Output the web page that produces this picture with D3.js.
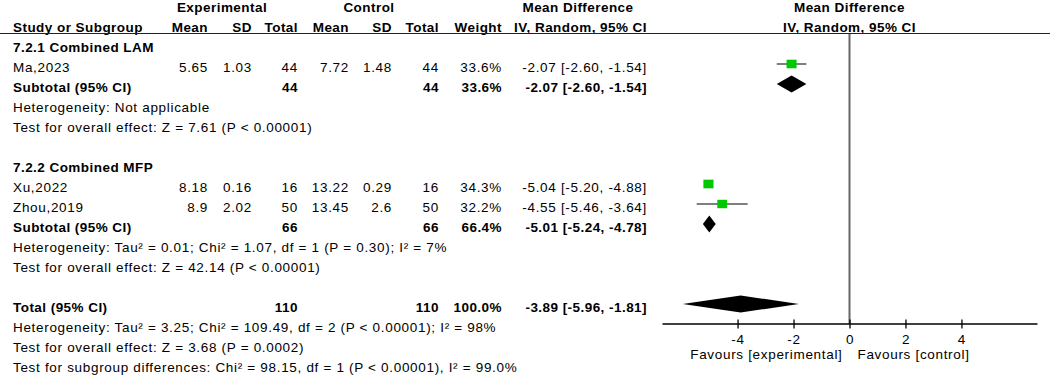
<!DOCTYPE html>
<html><head><meta charset="utf-8">
<script src="https://cdn.jsdelivr.net/npm/d3@7"></script>
<style>
body{margin:0;background:#fff;}
svg text{font-family:"Liberation Sans",Arial,sans-serif;font-size:13.5px;fill:#000;letter-spacing:0.68px;}
svg text.b{font-weight:bold;letter-spacing:0.45px;}
</style></head><body>
<svg id="chart"></svg>
<script>
// studies
var studyNames=['Ma,2023','Xu,2022','Zhou,2019'],
    studyGroup=[0,1,1],
    expMean=[5.65,8.18,8.9], expSD=[1.03,0.16,2.02], expTotal=[44,16,50],
    ctrlMean=[7.72,13.22,13.45], ctrlSD=[1.48,0.29,2.6], ctrlTotal=[44,16,50],
    weights=[33.6,34.3,32.2],
    mdEst=[-2.07,-5.04,-4.55], mdLow=[-2.60,-5.20,-5.46], mdHigh=[-1.54,-4.88,-3.64];
// subgroups
var groupNames=['7.2.1 Combined LAM','7.2.2 Combined MFP'],
    groupExp=[44,66], groupCtrl=[44,66], groupWeight=[33.6,66.4],
    groupMd=[-2.07,-5.01], groupLo=[-2.60,-5.24], groupHi=[-1.54,-4.78],
    groupHet=['Heterogeneity: Not applicable',
              'Heterogeneity: Tau\u00b2 = 0.01; Chi\u00b2 = 1.07, df = 1 (P = 0.30); I\u00b2 = 7%'],
    groupTest=['Test for overall effect: Z = 7.61 (P < 0.00001)',
               'Test for overall effect: Z = 42.14 (P < 0.00001)'];
// overall
var totalExp=110, totalCtrl=110, totalWeight=100.0,
    totalMd=-3.89, totalLo=-5.96, totalHi=-1.81,
    totalNotes=['Heterogeneity: Tau\u00b2 = 3.25; Chi\u00b2 = 109.49, df = 2 (P < 0.00001); I\u00b2 = 98%',
                'Test for overall effect: Z = 3.68 (P = 0.0002)',
                'Test for subgroup differences: Chi\u00b2 = 98.15, df = 1 (P < 0.00001), I\u00b2 = 99.0%'];
// axis
var xDomain=[-6.7,6.7], xTicks=[-4,-2,0,2,4],
    favours=['Favours [experimental]','Favours [control]'];

var W=1052,H=375;
var svg=d3.select('#chart').attr('width',W).attr('height',H);
var col={expMean:208,expSD:252,expTotal:298,ctrlMean:349,ctrlSD:392,ctrlTotal:439,weight:502,ci:647};
function rowY(i){return 12+20*i;}
var x=d3.scaleLinear().domain(xDomain).range([662,1037]);
var sq=d3.scaleSqrt().domain([0,33.6]).range([0,10]);
function ciText(m,l,h){return m.toFixed(2)+' ['+l.toFixed(2)+', '+h.toFixed(2)+']';}
function txt(s,xx,i,anchor,bold){
  svg.append('text').attr('x',xx).attr('y',rowY(i)).attr('text-anchor',anchor||'start')
     .attr('class',bold?'b':null).text(s);}

// headers
txt('Experimental',222,0,'middle',1);
txt('Control',369,0,'middle',1);
txt('Mean Difference',578,0,'middle',1);
txt('Mean Difference',x(0),0,'middle',1);
txt('Study or Subgroup',13,1,'start',1);
[['Mean','expMean'],['SD','expSD'],['Total','expTotal'],['Mean','ctrlMean'],
 ['SD','ctrlSD'],['Total','ctrlTotal'],['Weight','weight'],['IV, Random, 95% CI','ci']]
 .forEach(function(h){txt(h[0],col[h[1]],1,'end',1);});
txt('IV, Random, 95% CI',x(0),1,'middle',1);
svg.append('line').attr('x1',0).attr('x2',1050).attr('y1',33.5).attr('y2',33.5)
   .attr('stroke','#222').attr('stroke-width',1.2);

var plot=svg.append('g');
function diamond(m,l,h,i){
  var cy=rowY(i)-8;
  plot.append('path').attr('fill','#000')
      .attr('d','M'+x(l)+','+cy+'L'+x(m)+','+(cy-8.5)+'L'+x(h)+','+cy+'L'+x(m)+','+(cy+8.5)+'Z');}

var r=2;
groupNames.forEach(function(g,gi){
  txt(g,13,r,'start',1); r++;
  studyNames.forEach(function(n,k){
    if(studyGroup[k]!==gi) return;
    txt(n,13,r);
    txt(String(expMean[k]),col.expMean,r,'end');
    txt(String(expSD[k]),col.expSD,r,'end');
    txt(String(expTotal[k]),col.expTotal,r,'end');
    txt(String(ctrlMean[k]),col.ctrlMean,r,'end');
    txt(String(ctrlSD[k]),col.ctrlSD,r,'end');
    txt(String(ctrlTotal[k]),col.ctrlTotal,r,'end');
    txt(weights[k].toFixed(1)+'%',col.weight,r,'end');
    txt(ciText(mdEst[k],mdLow[k],mdHigh[k]),col.ci,r,'end');
    var cy=rowY(r)-8, s=sq(weights[k]);
    plot.append('line').attr('x1',x(mdLow[k])).attr('x2',x(mdHigh[k]))
        .attr('y1',cy).attr('y2',cy).attr('stroke','#555').attr('stroke-width',1.5);
    plot.append('rect').attr('x',x(mdEst[k])-s/2).attr('y',cy-s*0.43)
        .attr('width',s).attr('height',s*0.86).attr('fill','#00c800');
    r++;
  });
  txt('Subtotal (95% CI)',13,r,'start',1);
  txt(String(groupExp[gi]),col.expTotal,r,'end',1);
  txt(String(groupCtrl[gi]),col.ctrlTotal,r,'end',1);
  txt(groupWeight[gi].toFixed(1)+'%',col.weight,r,'end',1);
  txt(ciText(groupMd[gi],groupLo[gi],groupHi[gi]),col.ci,r,'end',1);
  diamond(groupMd[gi],groupLo[gi],groupHi[gi],r); r++;
  txt(groupHet[gi],13,r); r++;
  txt(groupTest[gi],13,r); r++;
  r++;
});
txt('Total (95% CI)',13,r,'start',1);
txt(String(totalExp),col.expTotal,r,'end',1);
txt(String(totalCtrl),col.ctrlTotal,r,'end',1);
txt(totalWeight.toFixed(1)+'%',col.weight,r,'end',1);
txt(ciText(totalMd,totalLo,totalHi),col.ci,r,'end',1);
diamond(totalMd,totalLo,totalHi,r);
totalNotes.forEach(function(t,j){txt(t,13,r+1+j);});

// axis
var axisY=323.5;
svg.append('line').attr('x1',x(0)).attr('x2',x(0)).attr('y1',34).attr('y2',axisY)
   .attr('stroke','#666').attr('stroke-width',2);
var ax=svg.append('g').attr('transform','translate(0,'+axisY+')')
   .call(d3.axisBottom(x).tickValues(xTicks).tickSizeOuter(0).tickFormat(function(d){return String(d);}));
ax.attr('font-size',null).attr('font-family',null);
ax.select('.domain').attr('stroke','#000').attr('stroke-width',1.3);
ax.selectAll('.tick line').attr('y1',-4).attr('y2',5).attr('stroke','#000').attr('stroke-width',1.3);
ax.selectAll('.tick text').attr('y',20).attr('dy',0).attr('fill','#000');
svg.append('text').attr('x',x(0)-7).attr('y',359).attr('text-anchor','end').text(favours[0]);
svg.append('text').attr('x',x(0)+8).attr('y',359).attr('text-anchor','start').text(favours[1]);
</script>
</body></html>
